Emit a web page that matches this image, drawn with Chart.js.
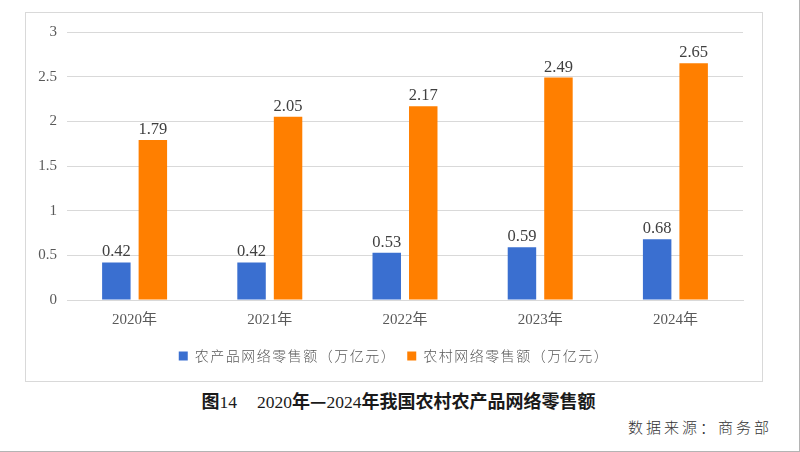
<!DOCTYPE html>
<html>
<head>
<meta charset="utf-8">
<script src="https://cdn.jsdelivr.net/npm/chart.js@4.4.0/dist/chart.umd.min.js"></script>
<style>
  html, body { margin: 0; padding: 0; background: #fff; }
  body { width: 800px; height: 452px; position: relative; overflow: hidden; }
  #edge { position: absolute; left: 0; top: 0; width: 799px; height: 451px;
          border-right: 1px solid #b4b4b4; border-bottom: 1px solid #b4b4b4; }
  #frame { position: absolute; left: 25px; top: 12px; width: 738px; height: 370px;
           border: 1px solid #d9d9d9; box-sizing: border-box; }
  #wrap { position: absolute; left: 25px; top: 12px; width: 737px; height: 369px; }
  #title { position: absolute; left: 0; top: 388px; width: 797px; text-align: center;
           font-family: "Noto Sans CJK SC", sans-serif; font-weight: 700; font-size: 18px;
           color: #1a1a1a; line-height: 24px; }
  #title .n { font-family: "Liberation Serif", serif; font-weight: 400; font-size: 17.5px; }
  #title .sp { display: inline-block; width: 20px; }
  #source { position: absolute; right: 28px; top: 415px; font-family: "Noto Sans CJK SC", sans-serif;
            font-weight: 300; font-size: 15px; letter-spacing: 3px; color: #333; line-height: 24px; }
</style>
</head>
<body>
<div id="edge"></div>
<div id="frame"></div>
<div id="wrap"><canvas id="c"></canvas></div>
<div id="title">图<span class="n">14</span><span class="sp"></span><span class="n">2020</span>年—<span class="n">2024</span>年我国农村农产品网络零售额</div>
<div id="source">数据来源：商务部</div>
<script>
const categories = ["2020年", "2021年", "2022年", "2023年", "2024年"];
const seriesNames = ["农产品网络零售额（万亿元）", "农村网络零售额（万亿元）"];
const agriProducts = [0.42, 0.42, 0.53, 0.59, 0.68];
const ruralRetail = [1.79, 2.05, 2.17, 2.49, 2.65];
const yTicks = [0, 0.5, 1, 1.5, 2, 2.5, 3];

const valueLabels = {
  id: 'valueLabels',
  afterDatasetsDraw(chart) {
    const ctx = chart.ctx;
    ctx.save();
    ctx.font = '16.5px "Liberation Serif", serif';
    ctx.fillStyle = '#404040';
    ctx.textAlign = 'center';
    ctx.textBaseline = 'alphabetic';
    chart.data.datasets.forEach((ds, di) => {
      const meta = chart.getDatasetMeta(di);
      meta.data.forEach((el, i) => {
        ctx.fillText(String(ds.data[i]), el.x, el.y - 6);
      });
    });
    ctx.restore();
  }
};

// legend text is letter-spaced and sits slightly right of centre in the reference
const legendSpacing = {
  id: 'legendSpacing',
  beforeUpdate(chart) {
    const lg = chart.legend;
    if (!lg || lg._spaced) return;
    lg._spaced = true;
    ['fit', 'draw'].forEach(fn => {
      const orig = lg[fn].bind(lg);
      lg[fn] = function (...args) {
        const ctx = chart.ctx;
        ctx.save();
        ctx.letterSpacing = '1.5px';
        if (fn === 'draw') ctx.translate(10, 0);
        const r = orig(...args);
        ctx.restore();
        return r;
      };
    });
  }
};

new Chart(document.getElementById('c'), {
  type: 'bar',
  data: {
    labels: categories,
    datasets: [
      { label: seriesNames[0], data: agriProducts, backgroundColor: '#3a6fd0',
        categoryPercentage: 0.54, barPercentage: 0.78 },
      { label: seriesNames[1], data: ruralRetail, backgroundColor: '#ff7f00',
        categoryPercentage: 0.54, barPercentage: 0.78 }
    ]
  },
  options: {
    responsive: true,
    maintainAspectRatio: false,
    animation: false,
    layout: { padding: { left: 0, right: 19, top: 20, bottom: 8 } },
    plugins: {
      legend: {
        position: 'bottom',
        labels: {
          boxWidth: 9, boxHeight: 9, padding: 11,
          color: '#595959',
          font: { family: '"Noto Sans CJK SC", sans-serif', size: 14, weight: 300 }
        }
      },
      tooltip: { enabled: false }
    },
    scales: {
      x: {
        grid: { display: false, drawTicks: false },
        border: { color: '#d9d9d9', width: 1 },
        ticks: { color: '#595959', padding: 11,
                 font: { family: '"Liberation Serif", "Noto Sans CJK SC", serif', size: 15 } },
        afterFit(scale) { scale.height = 38; }
      },
      y: {
        min: 0, max: 3,
        afterBuildTicks(scale) { scale.ticks = yTicks.map(v => ({ value: v })); },
        grid: { color: '#d9d9d9', drawTicks: false },
        border: { display: false },
        ticks: { color: '#595959', padding: 10,
                 font: { family: '"Liberation Serif", serif', size: 15 },
                 callback: (v) => String(v) },
        afterFit(scale) { scale.width = 42; }
      }
    }
  },
  plugins: [valueLabels, legendSpacing]
});
</script>
</body>
</html>
